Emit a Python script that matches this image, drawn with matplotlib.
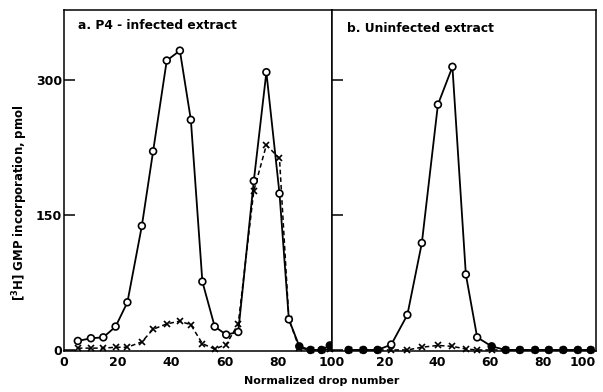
import numpy as np
import matplotlib
matplotlib.use('Agg')
import matplotlib.pyplot as plt

plt.rcParams['font.family'] = 'DejaVu Sans'
plt.rcParams['font.weight'] = 'bold'

# panel a: P4-infected extract
a_x = [5.2, 10.1, 14.7, 19.3, 23.7, 29.1, 33.3, 38.4, 43.3, 47.4, 51.7, 56.3,
       60.6, 65.1, 70.9, 75.6, 80.5, 84.0, 87.9, 92.1, 96.2, 99.3]
a_circ = [10, 13, 14, 26, 53, 138, 221, 322, 333, 256, 76, 26,
          17, 20, 188, 309, 174, 34, 4, 0, 0, 5]
a_cross = [2, 2, 2, 3, 3, 9, 23, 29, 32, 28, 7, 1,
           6, 29, 177, 228, 213, 34, 2, 0, 0, 1]

# panel b: uninfected extract
b_x = [6.2, 11.8, 17.2, 22.4, 28.5, 34.0, 40.1, 45.6, 50.7, 55.0, 60.5,
       65.8, 71.2, 77.0, 82.2, 87.7, 93.2, 98.1]
b_circ = [0, 0, 0, 6, 39, 119, 273, 315, 84, 14, 4,
          0, 0, 0, 0, 0, 0, 0]
b_cross = [0, 0, 0, 0, 0, 3, 5, 4, 1, 0, 0,
           0, 0, 0, 0, 0, 0, 0]

titles = ['a. P4 - infected extract', 'b. Uninfected extract']
xticks = [0, 20, 40, 60, 80, 100]
yticks = [0, 150, 300]

fig = plt.figure(figsize=(6.03, 3.92), dpi=100)
ax1 = fig.add_axes([0.106, 0.105, 0.445, 0.869])
ax2 = fig.add_axes([0.551, 0.105, 0.437, 0.869])

def panel(ax, x, circ, cross, title, xlim, tx, ty):
    x = np.array(x); circ = np.array(circ); cross = np.array(cross)
    ax.plot(x, cross, color='k', lw=1.1, ls=(0, (3, 2)), marker='x',
            ms=3.8, mew=1.2, zorder=2, clip_on=False)
    ax.plot(x, circ, color='k', lw=1.3, zorder=3, clip_on=False)
    # where both series sit together the marker looks solid
    both = np.abs(circ - cross) <= 4
    face = np.where(both & (circ <= 6), 'k', 'white')
    ax.scatter(x, circ, s=24, facecolors=face, edgecolors='k',
               linewidths=1.2, zorder=4, clip_on=False)
    ax.set_xlim(*xlim)
    ax.set_ylim(-1, 378)
    ax.set_xticks(xticks)
    ax.set_yticks(yticks)
    ax.tick_params(axis='x', length=0, pad=4, labelsize=9)
    ax.tick_params(axis='y', direction='in', length=8, width=1.1,
                   pad=1.5, labelsize=9)
    for s in ax.spines.values():
        s.set_linewidth(1.1)
    ax.text(tx, ty, title, transform=ax.transAxes, fontsize=8.8,
            fontweight='bold', va='center', ha='left')

panel(ax1, a_x, a_circ, a_cross, titles[0], (0.7, 100.2), 0.052, 0.956)
panel(ax2, b_x, b_circ, b_cross, titles[1], (1.8, 98.6), 0.057, 0.947)
ax2.set_yticklabels([])
ax2.set_xticklabels(['', '20', '40', '60', '80', '100'])
ax2.get_xticklabels()[-1].set_ha('right')
ax1.set_xticklabels(['0', '20', '40', '60', '80', '100'])

fig.text(0.033, 0.482, r'$[^3$H$]$ GMP incorporation, pmol', rotation=90,
         ha='center', va='center', fontsize=8.5, fontweight='bold')
fig.text(0.534, 0.028, 'Normalized drop number', ha='center', va='center',
         fontsize=8, fontweight='bold')

fig.savefig('out.png', dpi=100)
